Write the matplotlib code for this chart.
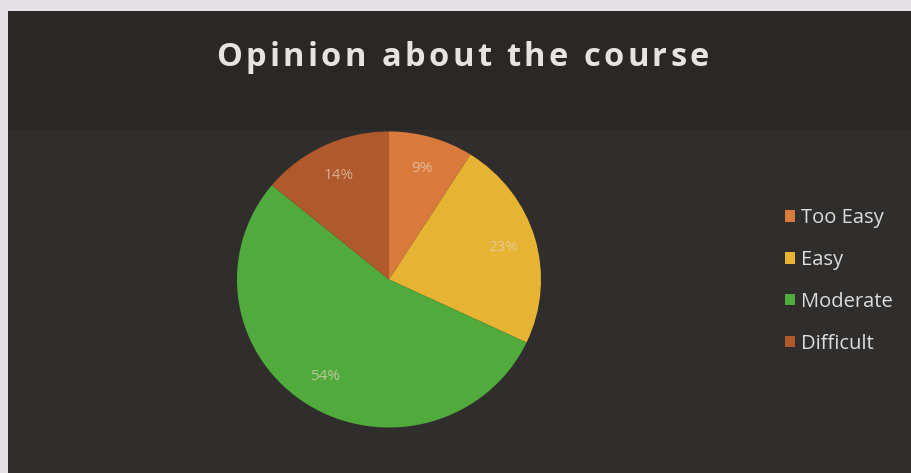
import matplotlib
matplotlib.use("Agg")
import matplotlib.pyplot as plt
from matplotlib.patches import Rectangle

categories = ["Too Easy", "Easy", "Moderate", "Difficult"]
values = [9, 23, 54, 14]
colors = ["#d97a3c", "#e6b332", "#50aa3c", "#b0592c"]
title = "Opinion about the course"

W, H = 912, 473
fig = plt.figure(figsize=(W / 100, H / 100), dpi=100)
fig.patch.set_facecolor("#e3e1e5")

# background axes in pixel coordinates
bg = fig.add_axes([0, 0, 1, 1], zorder=-10)
bg.set_xlim(0, W)
bg.set_ylim(H, 0)
bg.axis("off")
bg.add_patch(Rectangle((8, 11), W - 8, H - 11, facecolor="#302e2c", edgecolor="none"))
bg.add_patch(Rectangle((8, 11), W - 8, 119, facecolor="#2a2826", edgecolor="none"))

# pie axes: centre ~ (389, 279), radius ~152 x 148 px
cx, cy, rx, ry = 389, 279.5, 152, 148
ax = fig.add_axes([(cx - rx) / W, 1 - (cy + ry) / H, 2 * rx / W, 2 * ry / H], zorder=1)
ax.set_facecolor("none")
wedges, texts, autotexts = ax.pie(
    values, colors=colors, startangle=90, counterclock=False,
    autopct=lambda p: f"{p:.0f}%", pctdistance=0.78,
    wedgeprops=dict(linewidth=0),
    textprops=dict(color="#e8d2c2", fontsize=11, family="Open Sans"))
ax.set_xlim(-1, 1)
ax.set_ylim(-1, 1)
ax.set_aspect("auto")
for t in autotexts:
    t.set_alpha(0.7)

# title with letter spacing
renderer = fig.canvas.get_renderer()
tkw = dict(fontsize=23.5, fontweight="bold", color="#e6e4e2", family="Open Sans")

def text_w(s):
    t = fig.text(0, 0, s, **tkw)
    w = t.get_window_extent(renderer).width
    t.remove()
    return w

bar_w = text_w("|")
offsets = [text_w(title[:i] + "|") - bar_w for i in range(len(title) + 1)]
x_left, x_right = 216, 709
natural = offsets[-1]
track = (x_right - x_left - natural) / (len(title) - 1)
for i, ch in enumerate(title):
    if ch == " ":
        continue
    fig.text((x_left + offsets[i] + i * track) / W, 1 - 57 / H, ch,
             ha="left", va="center", **tkw)

leg = fig.legend(wedges, categories, loc="center left",
                 bbox_to_anchor=(785 / W, 1 - 281 / H),
                 frameon=False, borderpad=0, borderaxespad=0,
                 handlelength=0.5, handleheight=0.5, handletextpad=0.3,
                 labelspacing=1.08, prop=dict(family="Open Sans", size=14.5))
for t in leg.get_texts():
    t.set_color("#dcdcdc")

fig.savefig("out.png", dpi=100, facecolor=fig.get_facecolor())
